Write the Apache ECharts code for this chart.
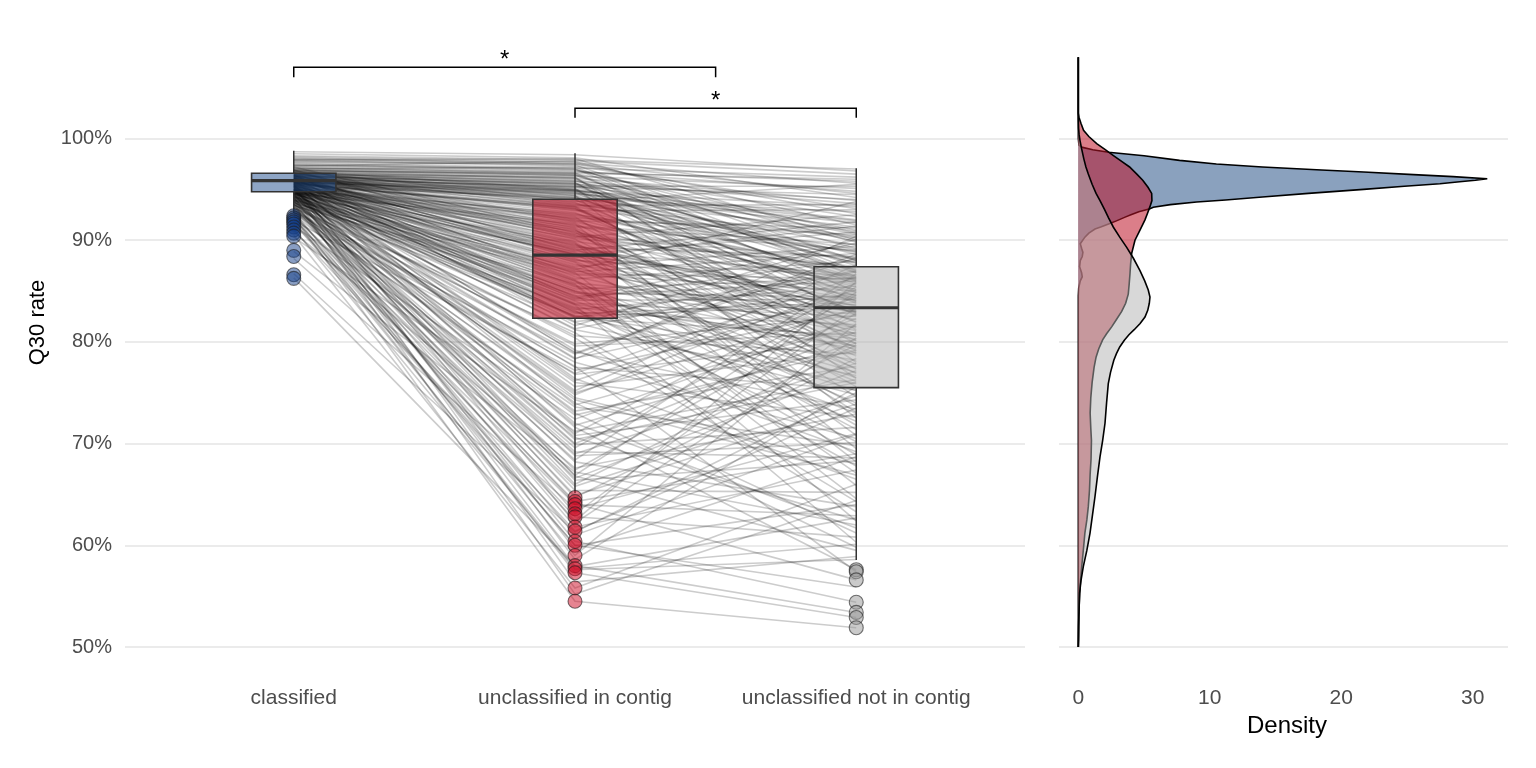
<!DOCTYPE html>
<html><head><meta charset="utf-8">
<script src="https://cdn.jsdelivr.net/npm/echarts@6/dist/echarts.min.js"></script>
<style>html,body{margin:0;padding:0;background:#fff}#c{width:1536px;height:768px}</style>
</head><body><div id="c"></div>
<script>
// ---------------- data ----------------
const categories = ['classified', 'unclassified in contig', 'unclassified not in contig'];
const categoryPos = [1, 2, 3];
const yTicks = [50, 60, 70, 80, 90, 100];
const densityTicks = [0, 10, 20, 30];

// paired samples: [classified, unclassified in contig, unclassified not in contig] (Q30 %)
const pairs = [
 [98.7,98.4,96.8],[98.5,98.1,94.2],[98.3,97.9,97.0],[98.2,97.7,91.5],[98.0,97.6,95.6],[97.9,97.4,88.0],
 [97.8,97.3,93.1],[97.6,97.1,96.2],[97.5,97.0,86.4],[97.4,96.9,90.7],[97.3,96.8,94.8],[97.2,96.6,84.9],
 [97.1,96.5,92.3],[97.0,96.4,89.2],[96.9,96.3,95.1],[96.9,96.1,82.6],[96.8,96.0,91.0],[96.7,95.9,87.5],
 [96.6,95.8,93.6],[96.6,95.7,79.8],[96.5,95.6,89.9],[96.4,95.5,94.0],[96.4,95.4,85.7],[96.3,95.3,92.0],
 [96.2,95.2,88.6],[96.2,95.1,76.4],[96.1,95.0,90.3],[96.0,94.9,86.9],[96.0,94.8,93.3],[95.9,94.7,83.8],
 [95.9,94.6,91.7],[95.8,94.5,88.2],[95.8,94.4,72.5],[95.7,94.3,89.5],[95.6,94.2,85.1],[95.6,94.1,92.8],
 [95.5,94.0,81.2],[97.9,98.0,90.0],[97.0,97.2,87.0],[96.8,96.6,96.0],[96.5,96.2,78.0],[96.3,95.6,84.0],
 [96.0,95.3,95.3],[95.7,94.8,86.0],[95.4,94.1,90.9],
 [97.7,97.5,92.6],[97.4,97.0,89.8],[97.1,96.7,95.8],[96.9,96.4,86.8],[96.7,96.1,93.9],[96.5,95.8,90.6],
 [96.3,95.5,88.0],[96.1,95.2,94.5],[95.9,94.9,84.5],[95.7,94.6,91.3],[96.8,95.0,87.7],[96.6,94.4,82.9],
 [96.2,93.6,89.1],[95.9,93.4,93.5],[95.6,93.1,80.7],[97.3,97.8,96.5],[98.1,97.5,94.6],[96.4,94.9,91.9],
 [96.0,94.2,86.3],[95.5,93.3,88.8],
 [96.8,93.9,87.8],[96.5,93.7,83.0],[96.3,93.5,90.2],[96.1,93.3,79.1],[95.9,93.1,86.2],[95.8,92.9,93.0],
 [95.7,92.7,81.9],[95.6,92.5,88.9],[95.5,92.3,74.6],[95.4,92.1,85.4],[95.3,91.9,91.2],[95.2,91.7,77.3],
 [95.1,91.5,84.3],[95.0,91.3,89.0],[94.9,91.1,70.8],[94.8,90.9,82.8],[97.2,90.7,87.2],[96.7,90.5,80.5],
 [96.4,90.3,92.5],[96.0,90.1,76.9],[95.8,89.9,85.9],[95.5,89.7,68.2],[95.3,89.5,83.5],[95.1,89.3,88.4],
 [94.9,89.1,79.5],[94.7,88.9,86.6],[94.5,88.7,73.7],[96.2,88.6,84.6],[95.9,93.8,95.5],[95.4,93.2,80.1],
 [95.0,92.6,86.8],[96.6,92.0,82.0],[96.3,91.4,89.6],[95.7,90.8,75.6],[95.2,90.2,87.4],[94.8,89.6,81.5],
 [96.9,89.0,91.8],[96.0,88.8,77.8],[95.6,93.0,84.8],[94.6,91.6,69.5],[95.3,90.6,86.1],[96.1,89.4,83.2],
 [94.9,92.2,90.5],[95.8,91.0,78.6],[95.0,88.55,85.2],
 [96.4,91.8,85.6],[96.1,91.2,79.4],[95.8,90.4,88.2],[95.5,89.8,73.1],[95.2,89.2,84.1],[94.9,88.6,90.8],
 [94.6,87.9,77.4],[94.3,87.3,81.1],[96.3,86.7,86.2],[96.0,86.1,71.4],[95.7,85.5,82.7],[95.4,84.9,76.5],
 [95.1,84.3,89.7],[94.8,83.7,79.6],[94.5,83.1,67.8],[94.2,82.5,83.7],[93.9,81.9,74.8],[95.0,81.3,86.9],
 [94.4,80.6,78.8],[93.7,79.8,82.6],[95.6,79.2,69.2],[94.9,78.4,84.3],[94.3,77.5,75.3],[93.5,76.8,80.2],
 [95.3,92.4,87.1],
 [96.3,88.4,84.0],[96.0,88.2,78.9],[95.7,88.0,86.5],[95.4,87.8,71.8],[95.1,87.6,83.6],[94.8,87.4,89.4],
 [94.5,87.2,76.1],[94.2,87.0,82.2],[93.9,86.8,65.9],[93.6,86.6,85.0],[96.6,86.4,80.8],[96.2,86.2,87.9],
 [95.8,86.0,74.0],[95.5,85.8,83.0],[95.2,85.6,62.4],[94.9,85.4,81.4],[94.6,85.2,86.3],[94.3,85.0,77.0],
 [94.0,84.8,84.4],[93.7,84.6,68.9],[96.4,84.4,79.3],[96.0,84.2,88.1],[95.6,84.0,75.2],[95.3,83.8,82.5],
 [95.0,83.6,60.3],[94.7,83.4,80.3],[94.4,83.2,85.5],[94.1,83.0,73.0],[93.8,82.8,83.9],[93.5,82.6,78.2],
 [96.1,82.4,87.0],[95.9,88.3,91.4],[95.4,87.1,93.8],[95.0,86.0,67.1],[94.6,85.0,79.9],[94.2,84.1,84.2],
 [93.9,83.3,70.2],[96.5,82.9,81.7],[95.2,82.5,76.7],[94.7,88.1,82.9],[94.0,86.9,88.7],[93.4,85.7,64.6],
 [95.7,84.5,86.0],[95.3,83.7,72.2],[94.8,82.35,80.6],
 [95.8,82.0,84.7],[95.2,81.2,75.9],[94.6,80.4,63.3],[94.0,79.6,80.9],[93.5,78.8,88.3],[92.9,78.0,70.5],
 [91.9,77.2,83.1],[96.0,76.4,66.5],[95.4,75.6,79.0],[94.8,74.8,85.8],[94.2,74.0,61.2],[93.6,73.2,77.6],
 [91.4,72.4,82.3],[95.6,71.6,57.6],[95.0,70.8,74.3],[94.4,70.0,81.0],[93.8,69.2,68.6],[93.0,68.4,86.7],
 [90.8,67.6,72.9],[95.5,66.8,59.5],[94.7,66.0,79.7],[94.1,65.4,65.2],[96.2,81.6,90.1],[95.1,79.0,73.4],
 [93.3,77.6,57.4],[94.9,75.2,87.6],[92.7,73.6,69.8],[90.3,71.2,76.3],[93.1,69.6,84.6],[88.9,67.2,62.0],
 [95.1,76.0,72.6],[94.5,75.0,83.3],[93.8,74.3,66.9],[93.1,72.8,79.2],[95.7,72.0,61.7],[94.6,71.0,85.4],
 [93.9,69.9,71.6],[92.6,69.0,77.9],[94.2,68.2,63.8],[93.4,67.4,82.8],[95.0,66.4,68.3],[92.4,65.8,74.7],
 [94.7,78.3,90.4],[93.2,80.9,64.3],[92.8,76.9,86.4],
 [95.9,73.8,81.6],[95.2,70.4,76.0],[94.8,68.8,70.1],[94.1,66.9,84.9],[93.6,64.9,73.9],[95.5,62.2,80.4],
 [94.6,59.6,68.7],[93.9,57.9,62.7],[95.0,56.4,58.9],[94.3,55.2,64.4],[96.1,78.9,88.6],[95.4,74.5,68.0],
 [94.9,71.8,79.9],[93.3,70.6,62.5],[92.9,66.6,77.2],[95.8,76.2,85.1],[94.4,73.0,59.8],[93.5,61.0,70.9],
 [92.6,62.4,85.9],[95.3,58.6,75.6],
 [94.5,64.7,78.4],[93.2,64.1,56.6],[88.2,63.6,71.0],[95.3,63.1,83.4],[92.1,62.8,60.8],[94.0,61.8,67.4],
 [86.7,61.3,75.0],[93.7,60.4,54.4],[91.7,60.0,64.0],[92.8,59.0,81.8],[86.3,58.0,53.4],[91.1,57.6,58.6],
 [92.5,57.3,52.9],[90.5,55.8,66.0],[92.3,54.5,51.9],[92.4,64.3,69.0],[92.0,57.7,60.1],[91.0,61.4,73.5],
 [91.6,64.0,62.9],[92.2,60.0,55.9]
];

// boxplot stats: [position, lower whisker, Q1, median, Q3, upper whisker]
const boxClassified = [1, 92.67, 94.77, 95.85, 96.58, 98.8];
const boxContig = [2, 65.11, 82.32, 88.54, 94.02, 98.54];
const boxNotContig = [3, 58.55, 75.5, 83.36, 87.39, 97.07];

// outliers
const outClassified = [92.4, 92.2, 92.0, 91.8, 91.6, 91.3, 91.0, 90.7, 90.4, 89.0, 88.4, 86.6, 86.25];
const outContig = [64.7, 64.3, 64.0, 63.6, 63.1, 62.8, 61.8, 61.4, 60.4, 60.0, 59.0, 58.0, 57.7, 57.3, 55.8, 54.5];
const outNotContig = [57.6, 57.4, 56.6, 54.4, 53.4, 52.9, 51.9];

// significance brackets: [x start, x end, top y, tip y, label]
const brackets = [
 [1, 2.5, 107.0, 106.02, '*'],
 [2, 3, 102.97, 102.05, '*']
];

// densities: [Q30 %, density]
const densClassified = [
 [108,0],[100,0],[99.35,0.05],[99.15,0.25],[98.9,1.1],[98.65,2.3],[98.3,5.0],[97.85,7.7],[97.5,10.5],
 [97.2,14.0],[96.9,18.5],[96.7,21.7],[96.45,25.5],[96.25,28.5],[96.05,31.1],[95.9,30.2],[95.75,29.0],
 [95.55,27.5],[95.3,24.8],[95.0,21.7],[94.6,17.5],[94.25,14.0],[93.95,11.2],[93.75,9.0],[93.5,7.0],
 [93.25,5.7],[93.1,5.45],[92.8,4.6],[92.5,4.0],[92.27,3.56],[91.9,2.9],[91.6,2.3],[91.3,1.7],[91.1,1.27],
 [90.7,0.8],[90.3,0.5],[89.65,0.15],[89.2,0.25],[88.8,0.35],[88.4,0.3],[88.0,0.15],[87.4,0.1],[86.8,0.25],
 [86.4,0.3],[86.0,0.15],[85.3,0.03],[84.5,0],[50,0]
];
const densContig = [
 [108,0],[102.5,0],[102.1,0.05],[101.5,0.2],[100.8,0.4],[100.2,0.8],[99.5,1.4],[98.9,2.05],[98.3,2.7],
 [97.7,3.35],[97.2,3.9],[96.5,4.45],[95.9,4.9],[95.2,5.3],[94.6,5.58],[93.9,5.6],[93.3,5.45],[92.6,5.25],
 [92.0,5.07],[91.0,4.69],[90.0,4.31],[88.7,4.06],[87.7,3.98],[86.7,3.93],[85.7,3.87],[84.7,3.8],[83.8,3.6],
 [83.0,3.3],[82.3,2.95],[81.5,2.55],[80.8,2.15],[80.2,1.85],[79.3,1.55],[78.5,1.35],[77.5,1.2],[76.0,1.05],
 [74.5,0.95],[73.0,0.9],[71.5,0.95],[70.3,1.0],[68.5,0.97],[67.0,0.9],[65.4,0.85],[63.8,0.76],[62.5,0.65],
 [61.2,0.5],[59.5,0.38],[57.9,0.26],[56.5,0.17],[55.3,0.1],[53.5,0.05],[52,0.02],[50,0]
];
const densNotContig = [
 [108,0],[102,0],[101,0.02],[100.4,0.06],[99.8,0.13],[99.0,0.25],[98.0,0.42],[97.2,0.58],[96.5,0.76],
 [95.5,1.05],[94.6,1.35],[93.9,1.65],[93.0,2.0],[92.2,2.3],[91.3,2.66],[90.3,3.15],[89.3,3.68],[88.2,4.2],
 [87.0,4.69],[86.0,5.05],[85.1,5.32],[84.4,5.45],[83.8,5.4],[83.1,5.28],[82.45,5.07],[81.8,4.7],[81.2,4.25],
 [80.7,3.85],[80.16,3.5],[79.5,3.15],[78.85,2.9],[78.2,2.7],[77.0,2.45],[75.9,2.28],[74.0,2.15],[72.0,2.03],
 [70.3,1.85],[68.7,1.65],[66.7,1.45],[64.8,1.27],[63.0,1.08],[61.2,0.89],[59.5,0.65],[57.9,0.38],[56.5,0.2],
 [55.3,0.1],[53,0.04],[50.7,0.02],[50,0]
];

// ---------------- styles ----------------
const FONT = 'Liberation Sans, Arial, Helvetica, sans-serif';
const COL = {
  blueBox: 'rgba(30,75,140,0.5)', redBox: 'rgba(190,25,45,0.6)', greyBox: 'rgba(178,178,178,0.5)',
  bluePt: 'rgba(20,62,135,0.5)', redPt: 'rgba(205,10,35,0.5)', greyPt: 'rgba(150,150,150,0.5)',
  blueD: 'rgba(30,75,130,0.52)', redD: 'rgba(190,20,40,0.55)', greyD: 'rgba(178,178,178,0.5)'
};
const Y_MIN = 47.542, Y_MAX = 110.669;

const chart = echarts.init(document.getElementById('c'), null, {renderer: 'canvas'});

function boxSeries(stats, fill) {
  return {
    type: 'custom', xAxisIndex: 0, yAxisIndex: 0, z: 3, silent: true,
    data: [stats],
    renderItem: (params, api) => {
      const x = api.value(0), lo = api.value(1), q1 = api.value(2), med = api.value(3), q3 = api.value(4), hi = api.value(5);
      const hw = 0.15;
      const tl = api.coord([x - hw, q3]), br = api.coord([x + hw, q1]);
      const pHi = api.coord([x, hi]), pLo = api.coord([x, lo]), pQ3 = api.coord([x, q3]), pQ1 = api.coord([x, q1]);
      const mL = api.coord([x - hw, med]), mR = api.coord([x + hw, med]);
      const st = {stroke: '#333', lineWidth: 1.5};
      return {type: 'group', children: [
        {type: 'line', shape: {x1: pHi[0], y1: pHi[1], x2: pQ3[0], y2: pQ3[1]}, style: st},
        {type: 'line', shape: {x1: pQ1[0], y1: pQ1[1], x2: pLo[0], y2: pLo[1]}, style: st},
        {type: 'rect', shape: {x: tl[0], y: tl[1], width: br[0] - tl[0], height: br[1] - tl[1]}, style: {fill: fill, stroke: '#333', lineWidth: 1.6}},
        {type: 'line', shape: {x1: mL[0], y1: mL[1], x2: mR[0], y2: mR[1]}, style: {stroke: '#333', lineWidth: 3.2}}
      ]};
    }
  };
}

function outlierSeries(pos, vals, fill) {
  return {
    type: 'scatter', xAxisIndex: 0, yAxisIndex: 0, z: 4, silent: true,
    data: vals.map(v => [pos, v]), symbol: 'circle', symbolSize: 14,
    itemStyle: {color: fill, borderColor: 'rgba(30,30,30,0.6)', borderWidth: 1.1, opacity: 1}
  };
}

function densitySeries(points, fill) {
  return {
    type: 'custom', xAxisIndex: 1, yAxisIndex: 1, silent: true, z: 2,
    data: points.map(p => [p[1], p[0]]),
    renderItem: (params, api) => {
      if (params.dataIndex !== 0) return null;
      const pts = points.map(p => api.coord([p[1], p[0]]));
      return {type: 'group', children: [
        {type: 'polygon', shape: {points: pts}, style: {fill: fill, stroke: null}},
        {type: 'polyline', shape: {points: pts}, style: {fill: null, stroke: '#000', lineWidth: 1.6}}
      ]};
    }
  };
}

const option = {
  animation: false,
  backgroundColor: '#fff',
  grid: [
    {left: 125, right: 511, top: 30, bottom: 96, containLabel: false},
    {left: 1059, right: 28, top: 30, bottom: 96, containLabel: false}
  ],
  xAxis: [
    {gridIndex: 0, type: 'value', min: 0.4, max: 3.6,
     axisLine: {show: false}, axisTick: {show: false}, splitLine: {show: false},
     axisLabel: {customValues: categoryPos, formatter: v => categories[Math.round(v) - 1],
                 fontSize: 21, fontFamily: FONT, color: '#4d4d4d', margin: 16}},
    {gridIndex: 1, type: 'value', min: -1.468, max: 32.677,
     axisLine: {show: false}, axisTick: {show: false}, splitLine: {show: false},
     axisLabel: {customValues: densityTicks, fontSize: 21, fontFamily: FONT, color: '#4d4d4d', margin: 16}}
  ],
  yAxis: [
    {gridIndex: 0, type: 'value', min: Y_MIN, max: Y_MAX,
     axisLine: {show: false}, axisTick: {show: false, customValues: yTicks},
     splitLine: {show: true, lineStyle: {color: '#ebebeb', width: 1.8}},
     axisLabel: {customValues: yTicks, formatter: v => v + '%', fontSize: 20, fontFamily: FONT, color: '#4d4d4d', margin: 13}},
    {gridIndex: 1, type: 'value', min: Y_MIN, max: Y_MAX,
     axisLine: {show: false}, axisTick: {show: false, customValues: yTicks},
     splitLine: {show: true, lineStyle: {color: '#ebebeb', width: 1.8}},
     axisLabel: {show: false, customValues: yTicks}}
  ],
  graphic: [
    {type: 'text', x: 37.5, y: 322.5, rotation: Math.PI / 2,
     style: {text: 'Q30 rate', fontSize: 22, fontFamily: FONT, fill: '#000', align: 'center', verticalAlign: 'middle'}},
    {type: 'text', x: 1287, y: 726.5,
     style: {text: 'Density', fontSize: 24, fontFamily: FONT, fill: '#000', align: 'center', verticalAlign: 'middle'}}
  ],
  series: [
    {type: 'lines', coordinateSystem: 'cartesian2d', xAxisIndex: 0, yAxisIndex: 0, polyline: true, silent: true, z: 1,
     large: false,
     data: pairs.map(p => ({coords: [[categoryPos[0], p[0]], [categoryPos[1], p[1]], [categoryPos[2], p[2]]]})),
     lineStyle: {color: '#000', opacity: 0.2, width: 1.6}},
    boxSeries(boxClassified, COL.blueBox),
    boxSeries(boxContig, COL.redBox),
    boxSeries(boxNotContig, COL.greyBox),
    outlierSeries(categoryPos[0], outClassified, COL.bluePt),
    outlierSeries(categoryPos[1], outContig, COL.redPt),
    outlierSeries(categoryPos[2], outNotContig, COL.greyPt),
    {type: 'custom', xAxisIndex: 0, yAxisIndex: 0, silent: true, z: 5,
     data: brackets.map(b => [b[0], b[1], b[2], b[3]]),
     renderItem: (params, api) => {
       const b = brackets[params.dataIndex];
       const p1 = api.coord([b[0], b[3]]), p2 = api.coord([b[0], b[2]]), p3 = api.coord([b[1], b[2]]), p4 = api.coord([b[1], b[3]]);
       const mid = api.coord([(b[0] + b[1]) / 2, b[2]]);
       return {type: 'group', children: [
         {type: 'polyline', shape: {points: [p1, p2, p3, p4]}, style: {stroke: '#000', lineWidth: 1.5, fill: null}},
         {type: 'text', x: mid[0], y: mid[1] + 5, style: {text: b[4], fontSize: 24, fontFamily: FONT, fill: '#000', align: 'center', verticalAlign: 'bottom'}}
       ]};
     }},
    densitySeries(densClassified, COL.blueD),
    densitySeries(densContig, COL.redD),
    densitySeries(densNotContig, COL.greyD)
  ]
};
chart.setOption(option);
</script></body></html>
